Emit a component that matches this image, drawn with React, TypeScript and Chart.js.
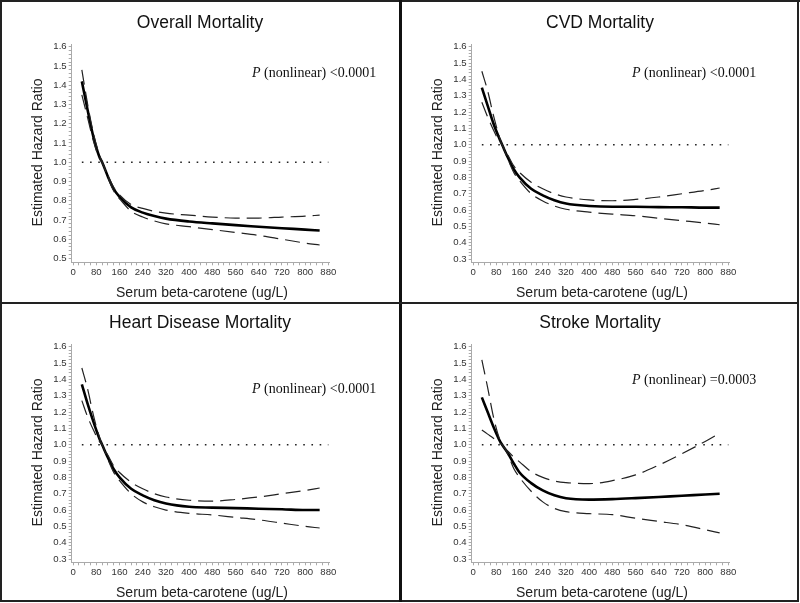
import React, { useEffect, useRef } from "react";
import { Chart, registerables } from "chart.js";

Chart.register(...registerables);

// x positions (ug/L) at which the curves were read
const xGrid = [30, 50, 70, 90, 100, 120, 140, 160, 200, 240, 280, 320, 400, 480, 560, 640, 720, 800, 850];

// Overall mortality
const overallHR = [1.42, 1.27, 1.13, 1.03, 1.0, 0.925, 0.86, 0.82, 0.765, 0.738, 0.72, 0.707, 0.692, 0.682, 0.673, 0.665, 0.657, 0.65, 0.645];
const overallUpper = [1.48, 1.3, 1.15, 1.04, 1.0, 0.93, 0.87, 0.83, 0.78, 0.76, 0.745, 0.735, 0.725, 0.715, 0.71, 0.71, 0.715, 0.72, 0.725];
const overallLower = [1.35, 1.23, 1.11, 1.02, 1.0, 0.92, 0.85, 0.81, 0.745, 0.715, 0.695, 0.68, 0.665, 0.65, 0.635, 0.62, 0.6, 0.58, 0.57];

// CVD mortality
const cvdHR = [1.35, 1.24, 1.13, 1.04, 1.0, 0.92, 0.85, 0.8, 0.73, 0.69, 0.66, 0.64, 0.625, 0.62, 0.62, 0.618, 0.617, 0.615, 0.615];
const cvdUpper = [1.45, 1.33, 1.18, 1.05, 1.0, 0.935, 0.87, 0.83, 0.77, 0.73, 0.7, 0.68, 0.662, 0.657, 0.665, 0.68, 0.7, 0.72, 0.735];
const cvdLower = [1.26, 1.17, 1.09, 1.02, 1.0, 0.91, 0.83, 0.78, 0.7, 0.655, 0.625, 0.605, 0.587, 0.575, 0.565, 0.55, 0.535, 0.52, 0.51];

// Heart disease mortality
const heartHR = [1.37, 1.25, 1.14, 1.04, 1.0, 0.92, 0.85, 0.8, 0.73, 0.69, 0.66, 0.64, 0.62, 0.615, 0.612, 0.608, 0.605, 0.6, 0.6];
const heartUpper = [1.47, 1.34, 1.18, 1.05, 1.0, 0.935, 0.87, 0.83, 0.77, 0.73, 0.7, 0.68, 0.66, 0.655, 0.665, 0.68, 0.7, 0.72, 0.735];
const heartLower = [1.27, 1.17, 1.09, 1.02, 1.0, 0.91, 0.83, 0.78, 0.7, 0.65, 0.62, 0.6, 0.58, 0.57, 0.555, 0.54, 0.52, 0.5, 0.49];

// Stroke mortality
const strokeHR = [1.29, 1.2, 1.11, 1.03, 1.0, 0.948, 0.885, 0.83, 0.765, 0.72, 0.69, 0.672, 0.664, 0.667, 0.673, 0.68, 0.688, 0.695, 0.7];
const strokeUpper = [1.52, 1.35, 1.17, 1.04, 1.0, 0.96, 0.925, 0.895, 0.835, 0.8, 0.778, 0.768, 0.762, 0.78, 0.815, 0.875, 0.945, 1.02, 1.07];
const strokeLower = [1.09, 1.065, 1.04, 1.013, 1.0, 0.94, 0.855, 0.8, 0.715, 0.65, 0.61, 0.59, 0.578, 0.572, 0.55, 0.53, 0.51, 0.48, 0.46];

const panelTitles = ["Overall Mortality", "CVD Mortality", "Heart Disease Mortality", "Stroke Mortality"];
const pTexts = [" (nonlinear) <0.0001", " (nonlinear) <0.0001", " (nonlinear) <0.0001", " (nonlinear) =0.0003"];
const xTickMajor = [0, 80, 160, 240, 320, 400, 480, 560, 640, 720, 800, 880];
const referenceHR = 1.0;
const xTitle = "Serum beta-carotene (ug/L)";
const yTitle = "Estimated Hazard Ratio";

const SANS = '"Liberation Sans", Arial, sans-serif';
const SERIF = '"Liberation Serif", "Times New Roman", serif';

type PanelCfg = {
  title: string;
  pText: string;
  pX: number;
  pY: number;
  yMin: number;
  yMax: number;
  yLow: number;
  hr: number[];
  upper: number[];
  lower: number[];
};

function pts(ys: number[]) {
  return xGrid.map((x, i) => ({ x, y: ys[i] }));
}

function Panel({ cfg }: { cfg: PanelCfg }) {
  const ref = useRef<HTMLCanvasElement | null>(null);
  useEffect(() => {
    const canvas = ref.current!;
    const yTicks: number[] = [];
    for (let k = Math.round(cfg.yLow * 50); k <= 80; k++) yTicks.push(k / 50);
    const xTicks: number[] = [];
    for (let k = 0; k <= 44; k++) xTicks.push(k * 20);

    const texts = {
      id: "texts",
      afterDraw(chart: any) {
        const ctx = chart.ctx as CanvasRenderingContext2D;
        ctx.save();
        ctx.fillStyle = "#111";
        ctx.textAlign = "center";
        ctx.textBaseline = "middle";
        ctx.font = `17.5px ${SANS}`;
        ctx.fillText(cfg.title, 200, 23);
        ctx.fillStyle = "#222";
        ctx.font = `14px ${SANS}`;
        ctx.fillText(xTitle, 202, 293);
        ctx.save();
        ctx.translate(38, 152.5);
        ctx.rotate(-Math.PI / 2);
        ctx.fillText(yTitle, 0, 0);
        ctx.restore();
        ctx.fillStyle = "#111";
        ctx.textAlign = "left";
        ctx.font = `italic 14px ${SERIF}`;
        ctx.fillText("P", cfg.pX, cfg.pY);
        const w = ctx.measureText("P").width;
        ctx.font = `14px ${SERIF}`;
        ctx.fillText(cfg.pText, cfg.pX + w, cfg.pY);
        ctx.restore();
      },
    };

    const chart = new Chart(canvas, {
      type: "line",
      data: {
        datasets: [
          {
            data: [{ x: 30, y: referenceHR }, { x: 880, y: referenceHR }],
            borderColor: "#222",
            borderWidth: 1.6,
            borderDash: [1.6, 6.6],
            pointRadius: 0,
          },
          {
            data: pts(cfg.upper),
            borderColor: "#222",
            borderWidth: 1.2,
            borderDash: [15, 7],
            pointRadius: 0,
            cubicInterpolationMode: "monotone",
          },
          {
            data: pts(cfg.lower),
            borderColor: "#222",
            borderWidth: 1.2,
            borderDash: [15, 7],
            pointRadius: 0,
            cubicInterpolationMode: "monotone",
          },
          {
            data: pts(cfg.hr),
            borderColor: "#000",
            borderWidth: 2.6,
            pointRadius: 0,
            cubicInterpolationMode: "monotone",
          },
        ],
      },
      options: {
        animation: false,
        responsive: false,
        devicePixelRatio: 1,
        layout: { padding: { left: 41.7, right: 70.2, top: 44.8, bottom: 17.7 } },
        plugins: { legend: { display: false }, tooltip: { enabled: false }, title: { display: false } },
        scales: {
          x: {
            type: "linear",
            min: -5,
            max: 885,
            afterBuildTicks: (s: any) => {
              s.ticks = xTicks.map((v) => ({ value: v }));
            },
            afterFit: (s: any) => {
              s.height = 20;
            },
            ticks: {
              autoSkip: false,
              maxRotation: 0,
              padding: 1,
              color: "#333",
              font: { family: SANS, size: 9.6 },
              callback: (v: any) => (xTickMajor.includes(Number(v)) ? String(v) : ""),
            },
            grid: { drawOnChartArea: false, tickLength: 3, tickColor: "#aaa" },
            border: { display: true, color: "#aaa", width: 1 },
          },
          y: {
            type: "linear",
            min: cfg.yMin,
            max: cfg.yMax,
            afterBuildTicks: (s: any) => {
              s.ticks = yTicks.map((v) => ({ value: v }));
            },
            afterFit: (s: any) => {
              s.width = 30;
            },
            ticks: {
              autoSkip: false,
              padding: 2,
              color: "#333",
              font: { family: SANS, size: 9.6 },
              callback: (v: any) => {
                const n = Number(v);
                const r = Math.round(n * 10);
                return Math.abs(n * 10 - r) < 1e-6 ? (r / 10).toFixed(1) : "";
              },
            },
            grid: { drawOnChartArea: false, tickLength: 3, tickColor: "#aaa" },
            border: { display: true, color: "#aaa", width: 1 },
          },
        },
      },
      plugins: [texts],
    } as any);
    return () => chart.destroy();
  }, [cfg]);
  return <canvas ref={ref} width={400} height={300} style={{ display: "block", width: 400, height: 300 }} />;
}

const panels: PanelCfg[] = [
  { title: panelTitles[0], pText: pTexts[0], pX: 252, pY: 73, yMin: 0.48, yMax: 1.61, yLow: 0.5, hr: overallHR, upper: overallUpper, lower: overallLower },
  { title: panelTitles[1], pText: pTexts[1], pX: 232, pY: 73, yMin: 0.28, yMax: 1.612, yLow: 0.3, hr: cvdHR, upper: cvdUpper, lower: cvdLower },
  { title: panelTitles[2], pText: pTexts[2], pX: 252, pY: 89, yMin: 0.28, yMax: 1.612, yLow: 0.3, hr: heartHR, upper: heartUpper, lower: heartLower },
  { title: panelTitles[3], pText: pTexts[3], pX: 232, pY: 80, yMin: 0.28, yMax: 1.612, yLow: 0.3, hr: strokeHR, upper: strokeUpper, lower: strokeLower },
];

const line = (s: React.CSSProperties): React.CSSProperties => ({ position: "absolute", background: "#222", ...s });

export default function App() {
  const pos = [
    { left: 0, top: 0 },
    { left: 400, top: 0 },
    { left: 0, top: 300 },
    { left: 400, top: 300 },
  ];
  return (
    <div style={{ position: "fixed", left: 0, top: 0, width: 800, height: 603, background: "#fff", overflow: "hidden" }}>
      {panels.map((p, i) => (
        <div key={i} style={{ position: "absolute", left: pos[i].left, top: pos[i].top, width: 400, height: 300 }}>
          <Panel cfg={p} />
        </div>
      ))}
      <div style={line({ left: 0, top: 0, width: 800, height: 2 })} />
      <div style={line({ left: 0, top: 0, width: 2, height: 602 })} />
      <div style={line({ left: 797, top: 0, width: 2, height: 602 })} />
      <div style={line({ left: 0, top: 600, width: 799, height: 2 })} />
      <div style={line({ left: 399, top: 0, width: 2.5, height: 602, background: "#111" })} />
      <div style={line({ left: 0, top: 302, width: 799, height: 1.5 })} />
    </div>
  );
}
